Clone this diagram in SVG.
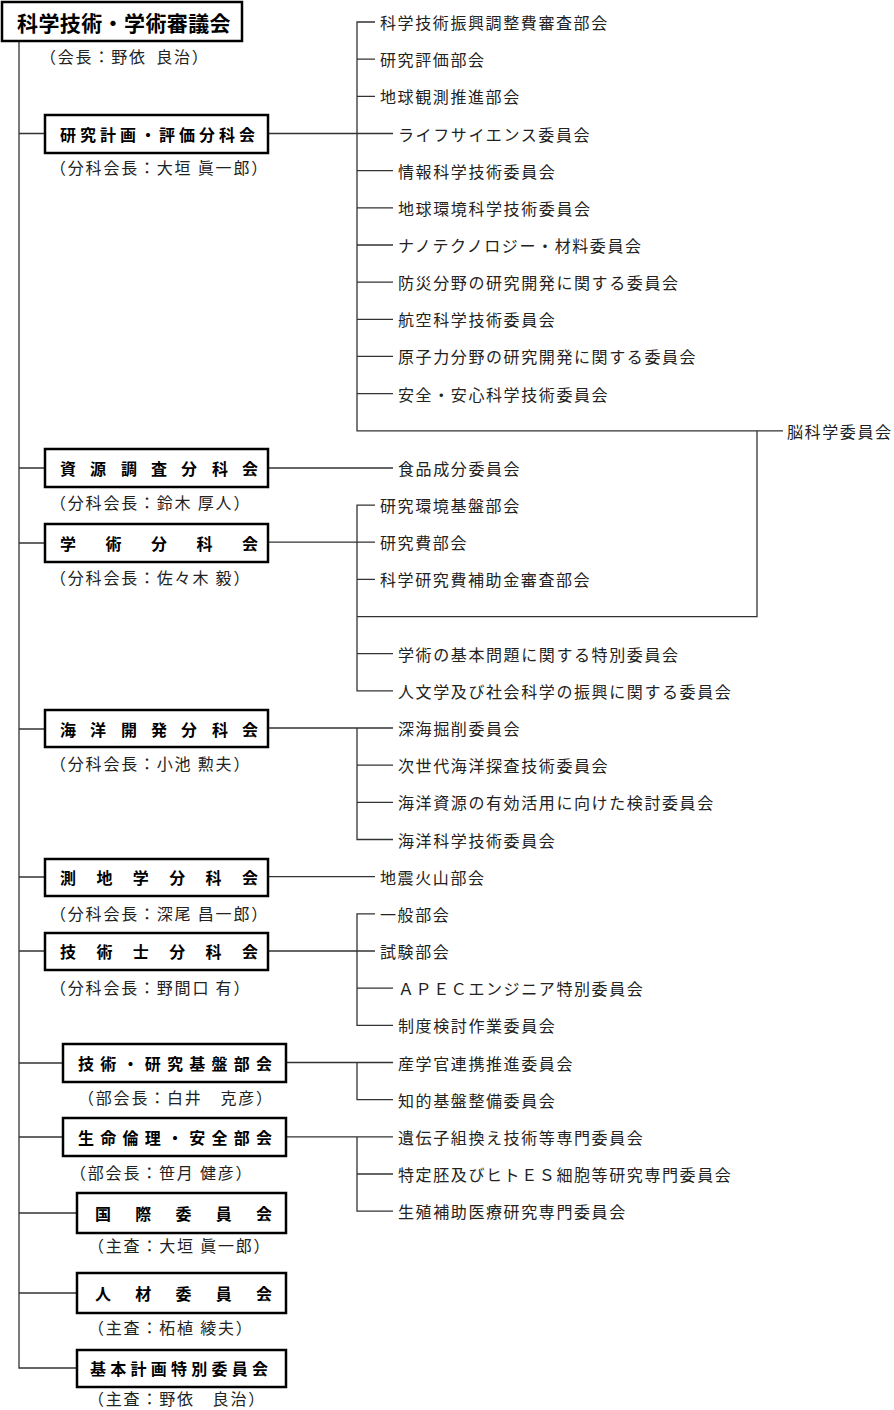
<svg xmlns="http://www.w3.org/2000/svg" width="894" height="1410" viewBox="0 0 894 1410">
<style>
text{font-family:"Noto Sans CJK JP","Noto Sans CJK SC",sans-serif;dominant-baseline:central}
.box{fill:#fff;stroke:#000;stroke-width:2.5}
.bt{font-size:16px;font-weight:bold;fill:#000}
.tt{font-size:21px;font-weight:bold;fill:#000;letter-spacing:0.4px}
.cap{font-size:16px;fill:#222;letter-spacing:1.8px}
.lbl{font-size:16px;fill:#222;letter-spacing:1.6px}
.ln{stroke:#333;stroke-width:1.3;fill:none}
</style>
<g id="connectors" class="ln">
<path d="M19 41V1368H77"/>
<path d="M19 133.5H45M19 468H45M19 543H45M19 729H45M19 877H45M19 951H45M19 1063H63M19 1137H63M19 1213H77M19 1293H77"/>
<path d="M268 133.5H393"/>
<path d="M375 22H357V430.8H783M357 59.2H375M357 96.3H375"/>
<path d="M357 170.6H393M357 207.8H393M357 245H393M357 282.1H393M357 319.3H393M357 356.4H393M357 393.6H393"/>
<path d="M268 468H393"/>
<path d="M268 542.2H375M375 505.1H357V690.9H393M357 579.4H375M357 653.7H393M357 616.6H757V430.8"/>
<path d="M268 728H393M357 728V839.5H393M357 765.2H393M357 802.4H393"/>
<path d="M268 876.7H375"/>
<path d="M268 951H375M375 913.8H357V1025.3H393M357 988.2H393"/>
<path d="M286 1062.5H393M357 1062.5V1099.6H393"/>
<path d="M286 1136.8H393M357 1136.8V1211.1H393M357 1174H393"/>
</g>
<g id="n-council"><rect class="box" x="2" y="2" width="240" height="39"/><text class="tt" x="17" y="22">科学技術・学術審議会</text><text class="cap" x="40" y="56" word-spacing="4">（会長：野依 良治）</text></g>
<g id="n-kenkyu"><rect class="box" x="45" y="115" width="223" height="38"/><text class="bt" x="60 80 100 120 140 159 179 199 219 239" y="134">研究計画・評価分科会</text><text class="cap" x="50" y="167">（分科会長：大垣 眞一郎）</text></g>
<g id="n-shigen"><rect class="box" x="45" y="449" width="223" height="38"/><text class="bt" x="60 90 121 151 181 212 242" y="468">資源調査分科会</text><text class="cap" x="50" y="502">（分科会長：鈴木 厚人）</text></g>
<g id="n-gakujutsu"><rect class="box" x="45" y="524" width="223" height="38"/><text class="bt" x="60 105.5 151 196.5 242" y="543">学術分科会</text><text class="cap" x="50" y="577">（分科会長：佐々木 毅）</text></g>
<g id="n-kaiyo"><rect class="box" x="45" y="710" width="223" height="37"/><text class="bt" x="60 90 121 151 181 212 242" y="729">海洋開発分科会</text><text class="cap" x="50" y="763">（分科会長：小池 勲夫）</text></g>
<g id="n-sokuchi"><rect class="box" x="45" y="859" width="223" height="37"/><text class="bt" x="60 96.4 132.8 169.2 205.6 242" y="877">測地学分科会</text><text class="cap" x="50" y="913">（分科会長：深尾 昌一郎）</text></g>
<g id="n-gijutsushi"><rect class="box" x="45" y="933" width="223" height="37"/><text class="bt" x="60 96.4 132.8 169.2 205.6 242" y="951">技術士分科会</text><text class="cap" x="50" y="987">（分科会長：野間口 有）</text></g>
<g id="n-kiban"><rect class="box" x="63" y="1044" width="223" height="38"/><text class="bt" x="78 100.25 122.5 144.75 167 189.25 211.5 233.75 256" y="1063">技術・研究基盤部会</text><text class="cap" x="78" y="1097">（部会長：白井　克彦）</text></g>
<g id="n-seimei"><rect class="box" x="63" y="1118" width="223" height="38"/><text class="bt" x="78 100.25 122.5 144.75 167 189.25 211.5 233.75 256" y="1137">生命倫理・安全部会</text><text class="cap" x="70" y="1172">（部会長：笹月 健彦）</text></g>
<g id="n-kokusai"><rect class="box" x="77" y="1193" width="209" height="40"/><text class="bt" x="95 135.25 175.5 215.75 256" y="1213">国際委員会</text><text class="cap" x="88" y="1245">（主査：大垣 眞一郎）</text></g>
<g id="n-jinzai"><rect class="box" x="77" y="1273" width="209" height="40"/><text class="bt" x="95 135.25 175.5 215.75 256" y="1293">人材委員会</text><text class="cap" x="88" y="1327">（主査：柘植 綾夫）</text></g>
<g id="n-kihon"><rect class="box" x="77" y="1350" width="209" height="37"/><text class="bt" x="90 110.25 130.5 150.75 171 191.25 211.5 231.75 252" y="1368">基本計画特別委員会</text><text class="cap" x="88" y="1398">（主査：野依　良治）</text></g>
<g id="r00"><text class="lbl" x="380" y="22">科学技術振興調整費審査部会</text></g>
<g id="r01"><text class="lbl" x="380" y="59.2">研究評価部会</text></g>
<g id="r02"><text class="lbl" x="380" y="96.3">地球観測推進部会</text></g>
<g id="r03"><text class="lbl" x="398" y="133.5">ライフサイエンス委員会</text></g>
<g id="r04"><text class="lbl" x="398" y="170.6">情報科学技術委員会</text></g>
<g id="r05"><text class="lbl" x="398" y="207.8">地球環境科学技術委員会</text></g>
<g id="r06"><text class="lbl" x="398" y="245">ナノテクノロジー・材料委員会</text></g>
<g id="r07"><text class="lbl" x="398" y="282.1">防災分野の研究開発に関する委員会</text></g>
<g id="r08"><text class="lbl" x="398" y="319.3">航空科学技術委員会</text></g>
<g id="r09"><text class="lbl" x="398" y="356.4">原子力分野の研究開発に関する委員会</text></g>
<g id="r10"><text class="lbl" x="398" y="393.6">安全・安心科学技術委員会</text></g>
<g id="r11"><text class="lbl" x="787" y="430.8">脳科学委員会</text></g>
<g id="r12"><text class="lbl" x="398" y="468">食品成分委員会</text></g>
<g id="r13"><text class="lbl" x="380" y="505.1">研究環境基盤部会</text></g>
<g id="r14"><text class="lbl" x="380" y="542.2">研究費部会</text></g>
<g id="r15"><text class="lbl" x="380" y="579.4">科学研究費補助金審査部会</text></g>
<g id="r17"><text class="lbl" x="398" y="653.7">学術の基本問題に関する特別委員会</text></g>
<g id="r18"><text class="lbl" x="398" y="690.9">人文学及び社会科学の振興に関する委員会</text></g>
<g id="r19"><text class="lbl" x="398" y="728">深海掘削委員会</text></g>
<g id="r20"><text class="lbl" x="398" y="765.2">次世代海洋探査技術委員会</text></g>
<g id="r21"><text class="lbl" x="398" y="802.4">海洋資源の有効活用に向けた検討委員会</text></g>
<g id="r22"><text class="lbl" x="398" y="839.5">海洋科学技術委員会</text></g>
<g id="r23"><text class="lbl" x="380" y="876.7">地震火山部会</text></g>
<g id="r24"><text class="lbl" x="380" y="913.8">一般部会</text></g>
<g id="r25"><text class="lbl" x="380" y="951">試験部会</text></g>
<g id="r26"><text class="lbl" x="398" y="988.2">ＡＰＥＣエンジニア特別委員会</text></g>
<g id="r27"><text class="lbl" x="398" y="1025.3">制度検討作業委員会</text></g>
<g id="r28"><text class="lbl" x="398" y="1062.5">産学官連携推進委員会</text></g>
<g id="r29"><text class="lbl" x="398" y="1099.6">知的基盤整備委員会</text></g>
<g id="r30"><text class="lbl" x="398" y="1136.8">遺伝子組換え技術等専門委員会</text></g>
<g id="r31"><text class="lbl" x="398" y="1174">特定胚及びヒトＥＳ細胞等研究専門委員会</text></g>
<g id="r32"><text class="lbl" x="398" y="1211.1">生殖補助医療研究専門委員会</text></g>
</svg>
